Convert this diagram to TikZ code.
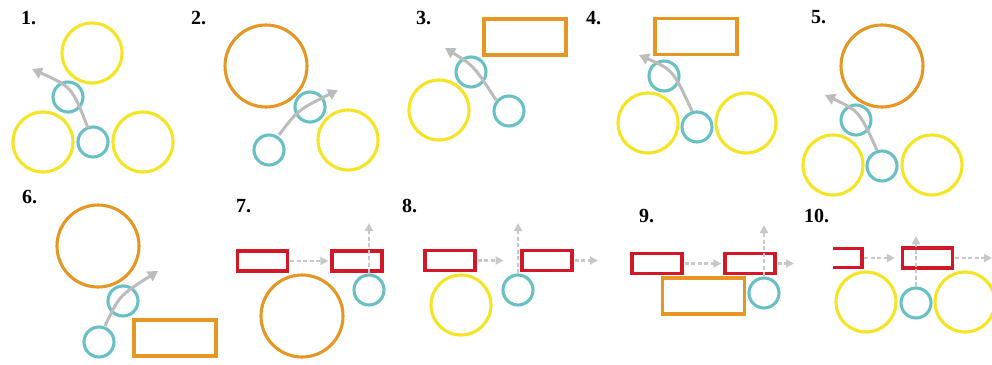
\documentclass[tikz,border=0pt]{standalone}
\usepackage{fontspec}
\setmainfont{Liberation Serif}
\usetikzlibrary{arrows.meta}
\definecolor{cyel}{RGB}{244,228,36}
\definecolor{corange}{RGB}{230,150,35}
\definecolor{cteal}{RGB}{104,192,196}
\definecolor{cred}{RGB}{210,24,40}
\definecolor{cgray}{RGB}{188,188,188}
\definecolor{cdash}{RGB}{200,200,200}
\begin{document}
\begin{tikzpicture}[x=1pt,y=-1pt,
  ring/.style={circle,draw,line width=3.1pt,inner sep=0pt},
  ocirc/.style={ring,draw=corange,minimum size=82pt},
  ycirc/.style={ring,draw=cyel,minimum size=60pt},
  tcirc/.style={ring,draw=cteal,minimum size=30pt},
  obox/.style={rectangle,draw=corange,line width=3.2pt,minimum width=82pt,minimum height=36pt,inner sep=0pt},
  rbox/.style={rectangle,draw=cred,line width=3.2pt,minimum width=50pt,minimum height=20pt,inner sep=0pt},
  curarrow/.style={draw=cgray,line width=3pt,-{Triangle[length=10pt,width=11pt]}},
  dasharrow/.style={draw=cdash,line width=2.5pt,dash pattern=on 4pt off 2.5pt,-{Triangle[length=8pt,width=8pt]}},
  num/.style={anchor=base west,inner sep=0pt,font=\fontsize{20}{20}\selectfont\bfseries}
]
\useasboundingbox (0,0) rectangle (992,364);

% ---------- 1 ----------
\node[num] (n1) at (21,24) {1.};
\node[ycirc] (y1a) at (92,53) {};
\node[ycirc] (y1b) at (43,142) {};
\node[ycirc] (y1c) at (143,142) {};
\node[tcirc] (t1a) at (68,97) {};
\node[tcirc] (t1b) at (93,142) {};
\coordinate (s1) at (88,128);
\coordinate (e1) at (32,69);
\draw[curarrow] (s1) .. controls (72,87) .. (e1);

% ---------- 2 ----------
\node[num] (n2) at (191,24) {2.};
\node[ocirc] (o2) at (266,66) {};
\node[tcirc] (t2a) at (310,107) {};
\node[tcirc] (t2b) at (269,150) {};
\node[ycirc] (y2) at (348,140) {};
\coordinate (s2) at (279,135);
\coordinate (e2) at (338,90);
\draw[curarrow] (s2) .. controls (298,110) .. (e2);

% ---------- 3 ----------
\node[num] (n3) at (416,24) {3.};
\node[obox] (b3) at (525,37) {};
\node[tcirc] (t3a) at (471,72) {};
\node[tcirc] (t3b) at (509,111) {};
\node[ycirc] (y3) at (439,110) {};
\coordinate (s3) at (496,100);
\coordinate (e3) at (445,48);
\draw[curarrow] (s3) .. controls (474,66) .. (e3);

% ---------- 4 ----------
\node[num] (n4) at (586,24) {4.};
\node[obox] (b4) at (696,36.5) {};
\node[tcirc] (t4a) at (664,76) {};
\node[tcirc] (t4b) at (697,127) {};
\node[ycirc] (y4a) at (648,123) {};
\node[ycirc] (y4b) at (746,123) {};
\coordinate (s4) at (692,111);
\coordinate (e4) at (639,55);
\draw[curarrow] (s4) .. controls (673,70) .. (e4);

% ---------- 5 ----------
\node[num] (n5) at (811,23) {5.};
\node[ocirc] (o5) at (882,66) {};
\node[tcirc] (t5a) at (856,120) {};
\node[tcirc] (t5b) at (882,166) {};
\node[ycirc] (y5a) at (833,165) {};
\node[ycirc] (y5b) at (932,165) {};
\coordinate (s5) at (877,150);
\coordinate (e5) at (825,95);
\draw[curarrow] (s5) .. controls (859,111) .. (e5);

% ---------- 6 ----------
\node[num] (n6) at (22,203) {6.};
\node[ocirc] (o6) at (98,246) {};
\node[tcirc] (t6a) at (123,301) {};
\node[tcirc] (t6b) at (99,342) {};
\node[obox] (b6) at (175,338) {};
\coordinate (s6) at (105,326);
\coordinate (e6) at (158,271);
\draw[curarrow] (s6) .. controls (119,296) .. (e6);

% ---------- 7 ----------
\node[num] (n7) at (236,212) {7.};
\node[rbox] (r7a) at (262.5,261) {};
\node[rbox] (r7b) at (357,261) {};
\node[tcirc] (t7) at (369,290) {};
\node[ocirc] (o7) at (302,316) {};
\coordinate (u7) at (369,223);
\draw[dasharrow,shorten <=1pt,shorten >=2pt] (r7a.east) -- (r7b.west);
\draw[dasharrow] (t7.north) -- (u7);

% ---------- 8 ----------
\node[num] (n8) at (402,212) {8.};
\node[rbox] (r8a) at (450,260.5) {};
\node[rbox] (r8b) at (547,260.5) {};
\node[tcirc] (t8) at (518,290) {};
\node[ycirc] (y8) at (461,305) {};
\coordinate (u8) at (518,223);
\coordinate (f8) at (598,260.5);
\draw[dasharrow,shorten <=1pt] (r8a.east) -- +(27,0);
\draw[dasharrow,shorten <=1pt] (r8b.east) -- (f8);
\draw[dasharrow] (t8.north) -- (u8);

% ---------- 9 ----------
\node[num] (n9) at (639,222) {9.};
\node[rbox] (r9a) at (657,263.5) {};
\node[rbox] (r9b) at (750,263.5) {};
\node[obox] (b9) at (703.5,296) {};
\node[tcirc] (t9) at (764,293) {};
\coordinate (u9) at (764,225);
\coordinate (f9) at (794,263.5);
\draw[dasharrow,shorten <=1pt,shorten >=2pt] (r9a.east) -- (r9b.west);
\draw[dasharrow,shorten <=1pt] (r9b.east) -- (f9);
\draw[dasharrow] (t9.north) -- (u9);

% ---------- 10 ----------
\node[num] (n10) at (804,222) {10.};
\draw[cred,line width=3.2pt] (833,248.5) -- (862,248.5) -- (862,267.5) -- (833,267.5);
\coordinate (c10) at (862,258);
\node[rbox] (r10) at (927.5,258) {};
\node[tcirc] (t10) at (916,303) {};
\node[ycirc] (y10a) at (866,302) {};
\node[ycirc] (y10b) at (965,302) {};
\coordinate (u10) at (916,236);
\coordinate (f10) at (992,258);
\draw[dasharrow,shorten <=2pt,shorten >=6pt] (c10) -- (r10.west);
\draw[dasharrow,shorten <=1pt] (r10.east) -- (f10);
\draw[dasharrow] (t10.north) -- (u10);
\end{tikzpicture}
\end{document}
